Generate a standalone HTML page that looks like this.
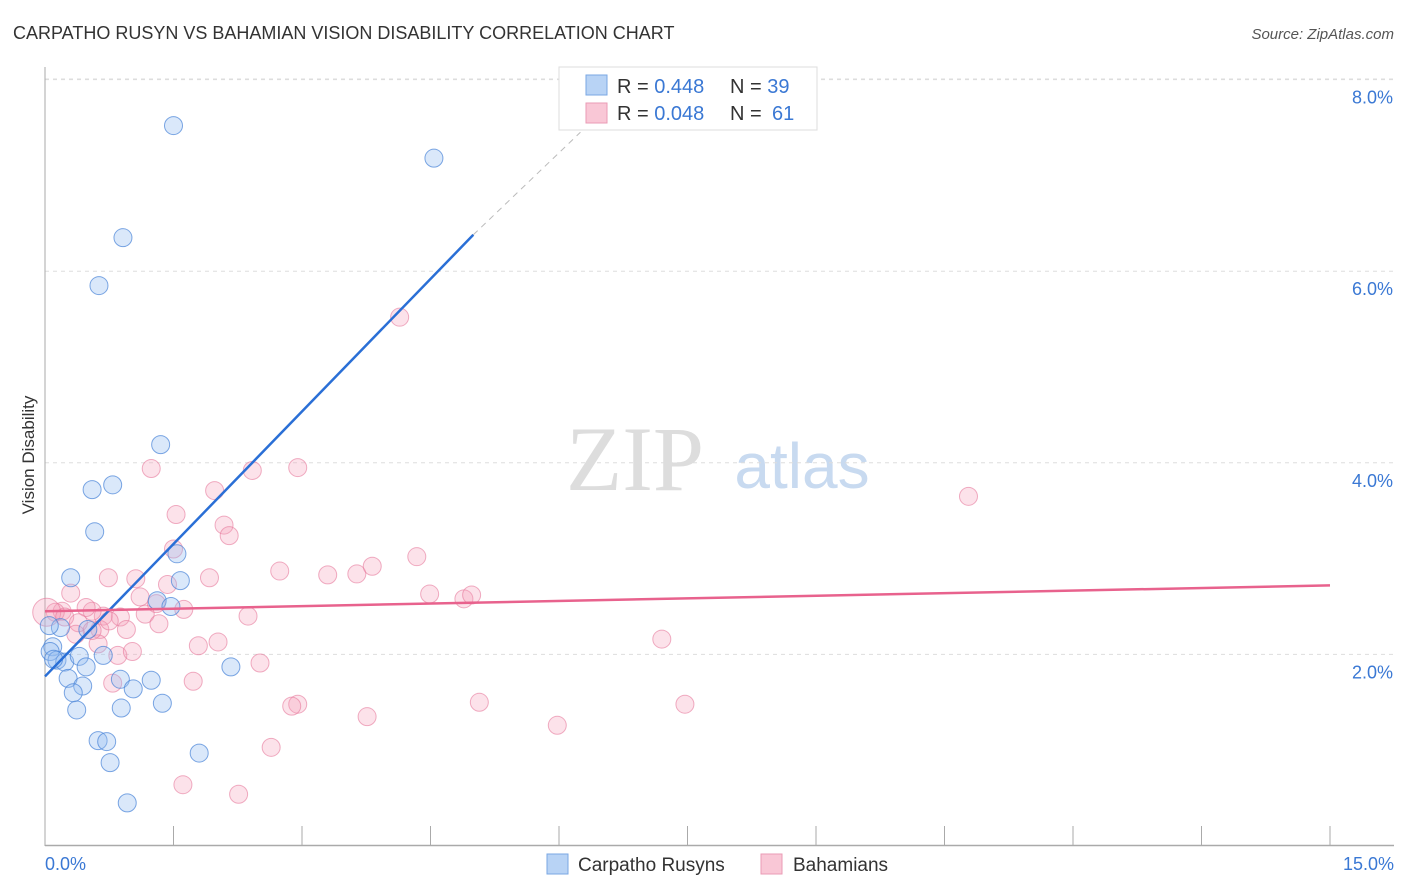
<!DOCTYPE html>
<html><head><meta charset="utf-8"><style>
body{margin:0;background:#fff;font-family:"Liberation Sans",sans-serif}
svg{display:block}
</style></head><body>
<svg id="chart" width="1406" height="892" viewBox="0 0 1406 892" xmlns="http://www.w3.org/2000/svg">
<text x="13" y="39" font-size="18" fill="#333" font-family="Liberation Sans, sans-serif">CARPATHO RUSYN VS BAHAMIAN VISION DISABILITY CORRELATION CHART</text>
<text x="1394" y="39" font-size="15" fill="#555" text-anchor="end" font-style="italic">Source: ZipAtlas.com</text>
<text transform="translate(34,455) rotate(-90)" font-size="17" fill="#333" text-anchor="middle">Vision Disability</text>
<g>
<text x="635" y="490" font-size="92" fill="#ddd" font-family="Liberation Serif, serif" text-anchor="middle">ZIP</text>
<text x="802" y="488" font-size="64" fill="#c8daf0" text-anchor="middle">atlas</text>
</g>
<g id="grid"></g><g id="axes"></g><g id="pts"></g><g id="lines"></g>
<g>
<rect x="559" y="67" width="258" height="63" fill="#fff" stroke="#ddd"/>
<rect x="586" y="75" width="21" height="20" fill="#b8d3f5" stroke="#7aa7e3"/>
<rect x="586" y="103" width="21" height="20" fill="#f9c7d6" stroke="#ea9bb5"/>
<text x="617" y="93" font-size="20" fill="#333">R = <tspan fill="#3a78d4">0.448</tspan><tspan x="730">N = </tspan><tspan fill="#3a78d4">39</tspan></text>
<text x="617" y="120" font-size="20" fill="#333">R = <tspan fill="#3a78d4">0.048</tspan><tspan x="730">N = </tspan><tspan fill="#3a78d4" x="772">61</tspan></text>
</g>
<g>
<rect x="547" y="854" width="21" height="20" fill="#b8d3f5" stroke="#7aa7e3"/>
<text x="578" y="871" font-size="19" fill="#333">Carpatho Rusyns</text>
<rect x="761" y="854" width="21" height="20" fill="#f9c7d6" stroke="#ea9bb5"/>
<text x="793" y="871" font-size="19" fill="#333">Bahamians</text>
</g>
</svg>
<script>
const xTicks=[0,1.5,3,4.5,6,7.5,9,10.5,12,13.5,15];
const yTicks=[2,4,6,8];
const yTickLabels=["2.0%","4.0%","6.0%","8.0%"];
const xTickLabels=["0.0%","15.0%"];
const blueX=[1.5,4.54,0.91,0.63,1.35,0.79,0.55,0.58,1.54,1.58,0.3,1.31,1.47,0.18,0.5,0.09,0.06,0.14,0.23,0.4,0.68,0.48,2.17,0.27,0.44,0.88,1.24,0.33,1.03,0.37,0.89,1.37,0.62,0.72,1.8,0.76,0.96,0.05,0.1];
const blueY=[7.52,7.18,6.35,5.85,4.19,3.77,3.72,3.28,3.05,2.77,2.8,2.56,2.5,2.28,2.26,2.08,2.03,1.94,1.92,1.98,1.99,1.87,1.87,1.75,1.67,1.74,1.73,1.6,1.64,1.42,1.44,1.49,1.1,1.09,0.97,0.87,0.45,2.3,1.95];
const pinkX=[4.14,10.78,2.95,1.24,2.42,1.98,1.53,2.09,2.15,1.5,4.34,2.74,3.3,3.64,3.82,0.74,1.06,1.92,1.43,4.49,4.89,4.98,1.11,1.3,1.62,2.37,1.17,0.88,0.68,0.55,0.48,0.3,0.2,0.12,0.02,0.23,0.39,0.64,0.36,0.95,1.33,2.02,1.79,0.62,0.85,2.51,7.2,0.79,1.73,2.95,2.88,3.76,5.07,7.47,5.98,2.64,1.61,2.26,0.55,0.75,1.02];
const pinkY=[5.52,3.65,3.95,3.94,3.92,3.71,3.46,3.35,3.24,3.1,3.02,2.87,2.83,2.84,2.92,2.8,2.79,2.8,2.73,2.63,2.58,2.62,2.6,2.53,2.47,2.4,2.42,2.39,2.4,2.45,2.49,2.64,2.45,2.44,2.44,2.39,2.33,2.26,2.21,2.26,2.32,2.13,2.09,2.11,1.99,1.91,2.16,1.7,1.72,1.48,1.46,1.35,1.5,1.48,1.26,1.03,0.64,0.54,2.25,2.35,2.03];
const blueLine=[0,1.77,5,6.38];const blueDash=[5,6.38,6.25,7.45];
const pinkLine=[0,2.45,15,2.72];
const NS="http://www.w3.org/2000/svg";
const X=v=>45+v/15*1285, Y=v=>846-v*95.8;
function mk(tag,attrs,parent){const e=document.createElementNS(NS,tag);for(const k in attrs)e.setAttribute(k,attrs[k]);parent.appendChild(e);return e;}
const grid=document.getElementById('grid'),axes=document.getElementById('axes'),pts=document.getElementById('pts'),lines=document.getElementById('lines');
yTicks.forEach((t,i)=>{
 const l=mk('line',{x1:45,x2:1394,y1:Y(t),y2:Y(t),stroke:'#ddd','stroke-dasharray':'4,4'},grid);
 
 
 const tx=mk('text',{x:1393,y:Y(t)+24,'font-size':18,fill:'#3a78d4','text-anchor':'end'},axes);
 tx.textContent=yTickLabels[i];
 
 
});
const topg=mk('line',{x1:45,x2:1394,y1:79,y2:79,stroke:'#ddd','stroke-dasharray':'4,4'},grid);


const ya=mk('line',{x1:45,x2:45,y1:67,y2:846,stroke:'#aaa'},axes);


const xa=mk('line',{x1:45,x2:1394,y1:845.5,y2:845.5,stroke:'#aaa','stroke-width':1.5},axes);


xTicks.forEach(t=>{
 const l=mk('line',{x1:X(t),x2:X(t),y1:826,y2:846,stroke:'#aaa'},axes);
 
 
});
[[0,'start',45],[15,'end',1394]].forEach((a,i)=>{
 const tx=mk('text',{x:a[2],y:870,'font-size':18,fill:'#3a78d4','text-anchor':a[1]},axes);
 tx.textContent=xTickLabels[i];
 
 
});
pinkX.forEach((v,i)=>{
 const c=mk('circle',{cx:X(v),cy:Y(pinkY[i]),r:(i==34?14:9),fill:'rgba(245,160,187,0.3)',stroke:'rgba(230,120,155,0.6)','stroke-width':1},pts);
 
 
});
blueX.forEach((v,i)=>{
 const c=mk('circle',{cx:X(v),cy:Y(blueY[i]),r:9,fill:'rgba(150,190,240,0.35)',stroke:'rgba(70,130,215,0.7)','stroke-width':1},pts);
 
 
});
const bl=mk('line',{x1:X(blueLine[0]),y1:Y(blueLine[1]),x2:X(blueLine[2]),y2:Y(blueLine[3]),stroke:'#2a6fd6','stroke-width':2.5},lines);


const bd=mk('line',{x1:X(blueDash[0]),y1:Y(blueDash[1]),x2:X(blueDash[2]),y2:Y(blueDash[3]),stroke:'#bbb','stroke-width':1,'stroke-dasharray':'6,5'},lines);


const pl=mk('line',{x1:X(pinkLine[0]),y1:Y(pinkLine[1]),x2:X(pinkLine[2]),y2:Y(pinkLine[3]),stroke:'#e8628d','stroke-width':2.5},lines);


</script>
</body></html>
